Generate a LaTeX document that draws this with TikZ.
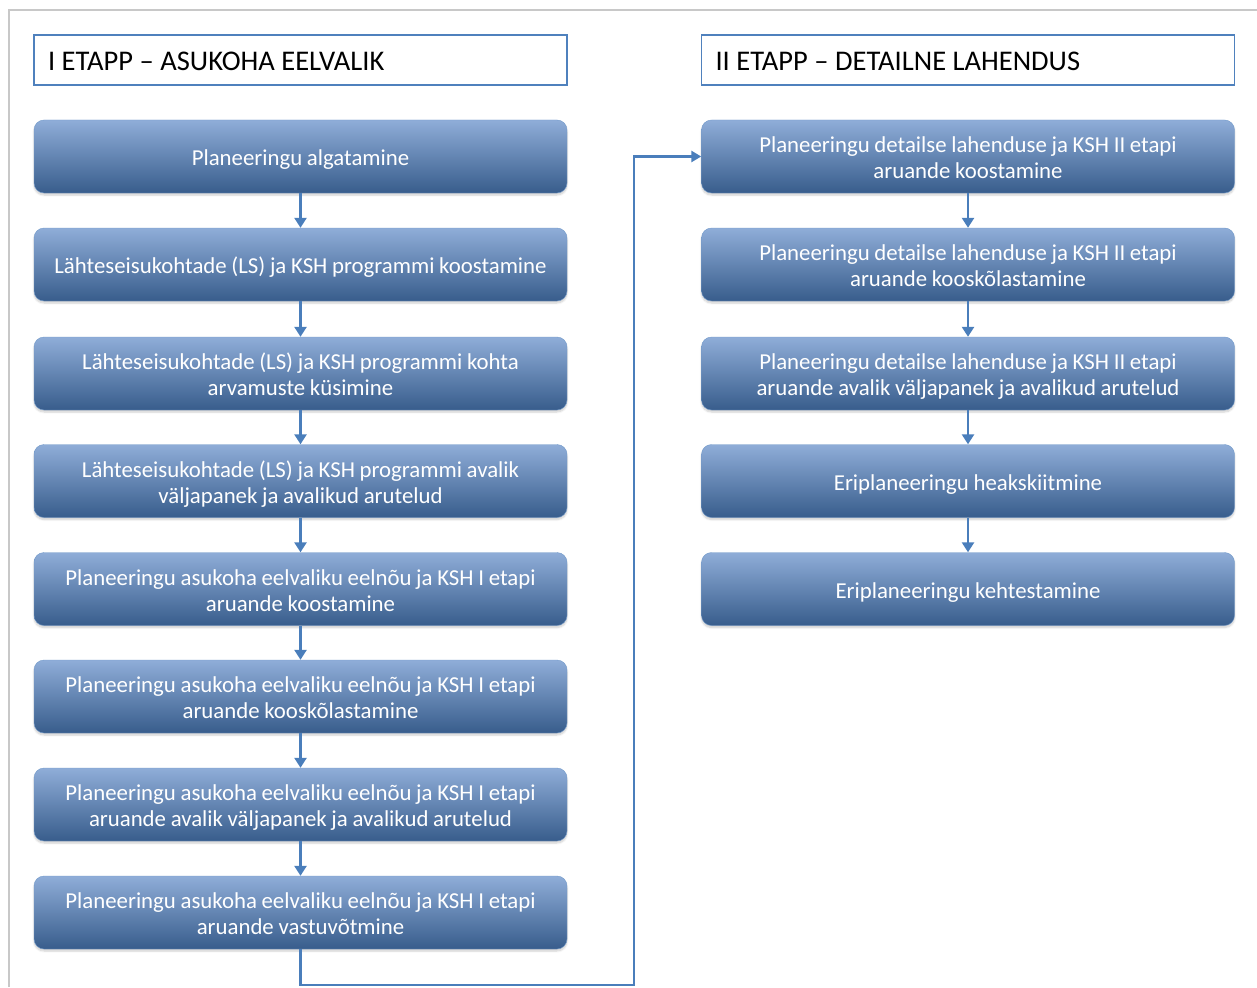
\documentclass[tikz,border=0pt]{standalone}
\usepackage{fontspec}
\setmainfont{Carlito}
\usetikzlibrary{arrows.meta,shadows.blur}
\definecolor{boxtop}{RGB}{143,173,216}
\definecolor{boxmid}{RGB}{79,129,189}
\definecolor{boxbot}{RGB}{56,93,140}
\definecolor{arrcol}{RGB}{74,126,187}
\definecolor{hdrline}{RGB}{79,129,189}
\definecolor{framecol}{RGB}{200,200,200}
\tikzset{
  stepbox/.style={rounded corners=10pt, top color=boxtop, middle color=boxmid, bottom color=boxbot,
    draw=boxmid!80!white, line width=0.4pt,
    minimum width=533pt, minimum height=73pt, text width=525pt, align=center, inner sep=0pt,
    text=white, font=\fontsize{22.8}{26}\selectfont,
    execute at begin node={\spaceskip=4.7pt\relax\xspaceskip=4.7pt\relax\rule{0pt}{24pt}},
    execute at end node={\rule[-6pt]{0pt}{6pt}},
    blur shadow={shadow xshift=0pt, shadow yshift=-2pt, shadow blur steps=6, shadow opacity=20}},
  hdrbox/.style={draw=hdrline, line width=1.3pt, fill=white, minimum width=533pt, minimum height=50pt,
    text width=505pt, align=left, inner xsep=14pt, inner ysep=0pt, font=\fontsize{28.5}{30}\selectfont, text=black,
    execute at begin node={\spaceskip=6.5pt\relax\rule{0pt}{26pt}},
    execute at end node={\rule[-5pt]{0pt}{5pt}}},
  arr/.style={draw=arrcol, line width=2.8pt, -{Triangle[width=12pt,length=10pt]}},
  conn/.style={draw=arrcol, line width=2.4pt, -{Triangle[width=11pt,length=10pt]}},
  frameline/.style={draw=framecol, line width=1.8pt}
}
\begin{document}
\begin{tikzpicture}[x=1pt,y=-1pt]
\useasboundingbox (0,0) rectangle (1257,987);
\coordinate (f0) at (9,987);
\coordinate (f1) at (9,10);
\coordinate (f2) at (1257,10);
\draw[frameline] (f0) -- (f1) -- (f2);

\node[hdrbox] (h1) at (300.5,60) {I ETAPP – ASUKOHA EELVALIK};
\node[hdrbox] (h2) at (968,60) {II ETAPP – DETAILNE LAHENDUS};

\node[stepbox] (l1) at (300.5,156.5) {Planeeringu algatamine};
\node[stepbox] (l2) at (300.5,264.5) {Lähteseisukohtade (LS) ja KSH programmi koostamine};
\node[stepbox] (l3) at (300.5,373.5) {Lähteseisukohtade (LS) ja KSH programmi kohta\\arvamuste küsimine};
\node[stepbox] (l4) at (300.5,481) {Lähteseisukohtade (LS) ja KSH programmi avalik\\väljapanek ja avalikud arutelud};
\node[stepbox] (l5) at (300.5,589) {Planeeringu asukoha eelvaliku eelnõu ja KSH I etapi\\aruande koostamine};
\node[stepbox] (l6) at (300.5,696.5) {Planeeringu asukoha eelvaliku eelnõu ja KSH I etapi\\aruande kooskõlastamine};
\node[stepbox] (l7) at (300.5,804.5) {Planeeringu asukoha eelvaliku eelnõu ja KSH I etapi\\aruande avalik väljapanek ja avalikud arutelud};
\node[stepbox] (l8) at (300.5,912.5) {Planeeringu asukoha eelvaliku eelnõu ja KSH I etapi\\aruande vastuvõtmine};

\node[stepbox] (r1) at (968,156.5) {Planeeringu detailse lahenduse ja KSH II etapi\\aruande koostamine};
\node[stepbox] (r2) at (968,264.5) {Planeeringu detailse lahenduse ja KSH II etapi\\aruande kooskõlastamine};
\node[stepbox] (r3) at (968,373.5) {Planeeringu detailse lahenduse ja KSH II etapi\\aruande avalik väljapanek ja avalikud arutelud};
\node[stepbox] (r4) at (968,481) {Eriplaneeringu heakskiitmine};
\node[stepbox] (r5) at (968,589) {Eriplaneeringu kehtestamine};

\foreach \a/\b in {l1/l2,l2/l3,l3/l4,l4/l5,l5/l6,l6/l7,l7/l8,r1/r2,r2/r3,r3/r4,r4/r5}
  \draw[arr] (\a.south) -- (\b.north);

\coordinate (c1) at (300.5,985);
\coordinate (c2) at (634,985);
\draw[conn] (l8.south) -- (c1) -- (c2) |- (r1.west);
\end{tikzpicture}
\end{document}
